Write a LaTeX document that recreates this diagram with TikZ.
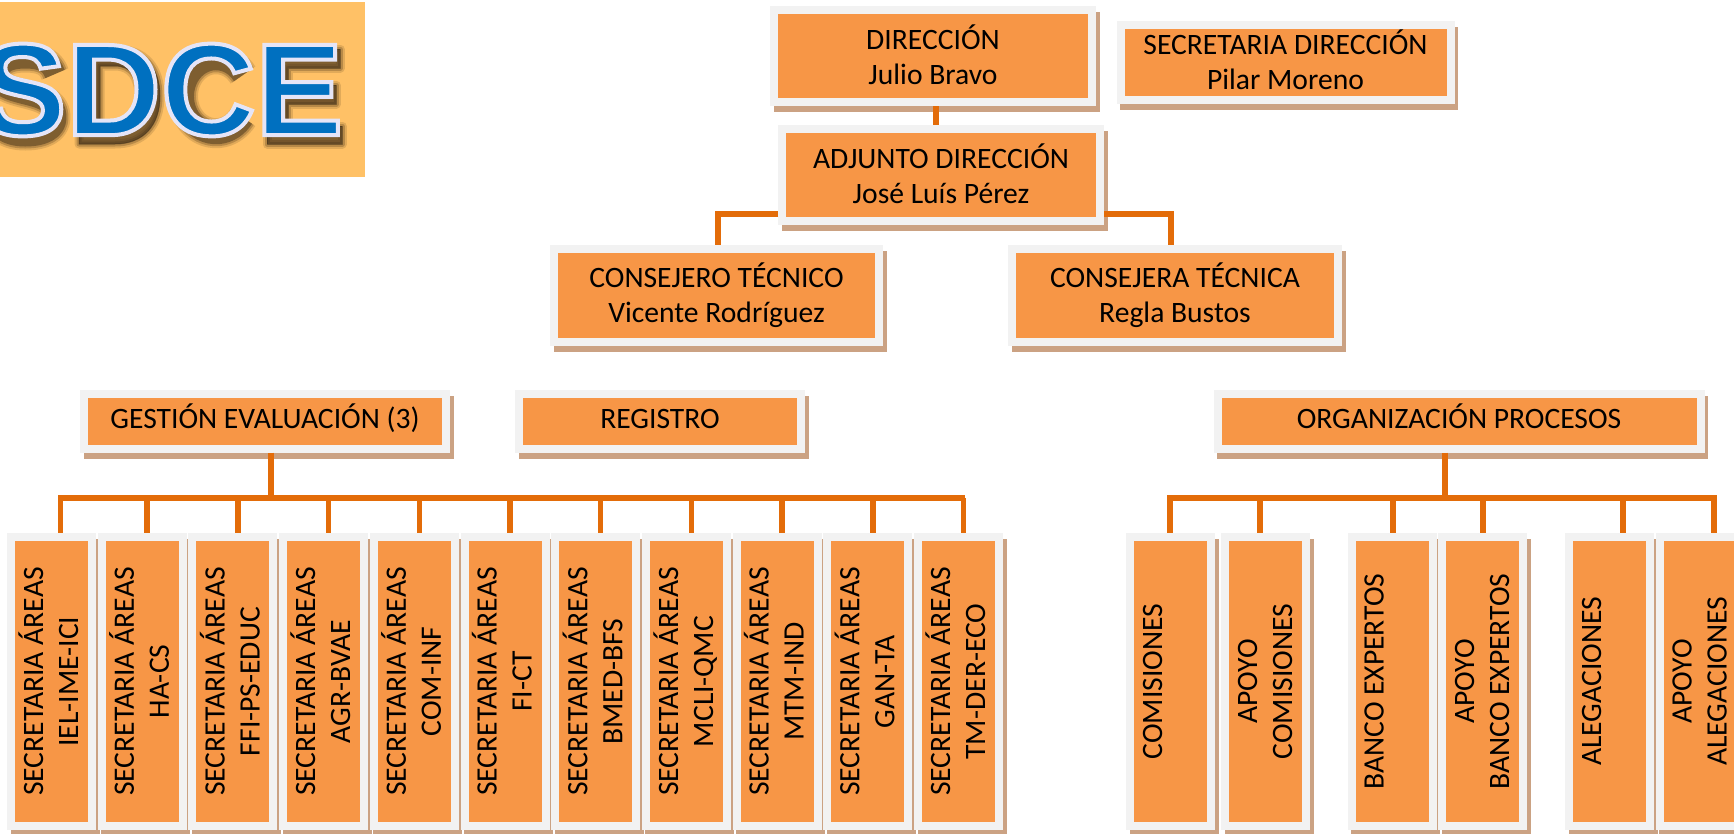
\documentclass[tikz,border=0pt]{standalone}
\usepackage{fontspec}
\usetikzlibrary{shadows}
\setmainfont{Carlito}
\newfontface\logofont{Liberation Sans Bold}

\definecolor{naranja}{HTML}{F79646}
\definecolor{marco}{HTML}{F2F2F2}
\definecolor{sombra}{HTML}{CBA283}
\definecolor{linea}{HTML}{E36C09}
\definecolor{fondologo}{HTML}{FFC166}
\definecolor{azullogo}{HTML}{0070C0}
\definecolor{sombralogo}{HTML}{3A2A15}

\newcommand{\giro}[1]{\hspace*{4pt}\rotatebox{90}{\begin{tabular}{@{}c@{}}#1\end{tabular}}}
\newcommand{\contorno}[1]{\special{pdf:code 2 Tr 4 w 0.9 0.9 0.97 RG}#1\special{pdf:code 0 Tr 1 w}}

\tikzset{
	caja/.style={rectangle, draw=marco, line width=8pt, fill=naranja, inner sep=0pt, align=center,
		font=\fontsize{29.6}{35}\selectfont, text=black,
		general shadow={fill=sombra, draw=sombra, shadow xshift=3.5pt, shadow yshift=-6pt}},
	vcaja/.style={caja, minimum width=81pt, minimum height=289pt},
	conector/.style={draw=linea, line width=5.5pt}
}

\begin{document}
\begin{tikzpicture}[x=1pt, y=-1pt]
	\useasboundingbox (0,0) rectangle (1734,833);

	% logo
	\node (logo) at (182.5,89.5) [fill=fondologo, minimum width=365pt, minimum height=175pt] {};
	\begin{scope}
		\clip (0,0) rectangle (365,177);
		% sombra de las letras, de mas ancha a mas estrecha
		\foreach \w/\o in {9/0.15, 5/0.25, 1/0.45} {
			\begin{scope}[shift={(3,6)}, draw=sombralogo, fill=sombralogo, opacity=\o, line join=round]
				\path[draw, fill, even odd rule, line width=\w pt] (76,43) -- (112,43) .. controls (142,43) and (157,62) .. (157,90)
					.. controls (157,120) and (140,138) .. (112,138) -- (76,138) -- cycle
					(97,60) -- (97,121) -- (112,121) .. controls (128,121) and (136,108) .. (136,90)
					.. controls (136,72) and (128,60) .. (112,60) -- cycle;
				\path[draw, fill, line width=\w pt] (264,43) -- (337,43) -- (337,62) -- (285,62) -- (285,79) -- (333,79) -- (333,98)
					-- (285,98) -- (285,120) -- (339,120) -- (339,138) -- (264,138) -- cycle;
				\draw[line width=21pt+\w pt] (240,69) arc[start angle=35, end angle=325, x radius=33pt, y radius=37pt];
				\draw[line width=20pt+\w pt] (52,68) .. controls (48,56) and (38,52) .. (22,52)
					.. controls (0,52) and (-8,62) .. (-4,74) .. controls (2,92) and (52,84) .. (53,110)
					.. controls (54,124) and (40,130) .. (22,130) .. controls (4,130) and (-8,122) .. (-12,106);
			\end{scope}
		}
		\node (sigla) at (161,90) [text=azullogo, inner sep=0pt, font=\logofont\fontsize{131}{131}\selectfont] {\contorno{SDCE}};
	\end{scope}

	% direccion
	\node (dir) at (933,56) [caja, text depth=3pt, minimum width=318pt, minimum height=92pt] {DIRECCIÓN\\Julio Bravo};
	\node (sec) at (1285.5,62.5) [caja, text depth=5pt, minimum width=330pt, minimum height=75pt] {SECRETARIA DIRECCIÓN\\Pilar Moreno};
	\node (adj) at (941,175) [caja, text depth=3pt, minimum width=318pt, minimum height=92pt] {ADJUNTO DIRECCIÓN\\José Luís Pérez};
	\node (conso) at (716.5,295.5) [caja, minimum width=325pt, minimum height=93pt] {CONSEJERO TÉCNICO\\Vicente Rodríguez};
	\node (consa) at (1175,295.5) [caja, minimum width=326pt, minimum height=93pt] {CONSEJERA TÉCNICA\\Regla Bustos};

	\node (ges) at (265,421) [caja, minimum width=362pt, minimum height=55pt] {\strut GESTIÓN EVALUACIÓN (3)};
	\node (reg) at (660,421) [caja, minimum width=282pt, minimum height=55pt] {\strut REGISTRO};
	\node (org) at (1459,421) [caja, minimum width=483pt, minimum height=55pt] {\strut ORGANIZACIÓN PROCESOS};

	% secretarias de areas
	\foreach \n/\cx/\area in {1/51.5/IEL-IME-ICI, 2/142.2/HA-CS, 3/232.9/FFI-PS-EDUC, 4/323.6/AGR-BVAE,
		5/414.3/COM-INF, 6/505/FI-CT, 7/595.7/BMED-BFS, 8/686.4/MCLI-QMC, 9/777.1/MTM-IND,
		10/867.8/GAN-TA, 11/958.5/TM-DER-ECO}
		\node (s\n) at (\cx,681.5) [vcaja] {\giro{SECRETARIA ÁREAS\\\area}};

	% procesos
	\node (com) at (1170.5,681.5) [vcaja] {\giro{COMISIONES\\ \\}};
	\node (acom) at (1265.5,681.5) [vcaja] {\giro{APOYO\\COMISIONES}};
	\node (ban) at (1392,681.5) [vcaja] {\giro{BANCO EXPERTOS\\ \\}};
	\node (aban) at (1482.5,681.5) [vcaja] {\giro{APOYO\\BANCO EXPERTOS}};
	\node (ale) at (1609.5,681.5) [vcaja] {\giro{ALEGACIONES\\ \\}};
	\node (aale) at (1700,681.5) [vcaja] {\giro{APOYO\\ALEGACIONES}};

	% conectores de arriba
	\draw[conector] ([xshift=3pt]dir.south) -- ([xshift=-5pt]adj.north);
	\draw[conector] ([yshift=-39pt]adj.west) -| ([xshift=1.5pt]conso.north);
	\draw[conector] ([yshift=-39pt]adj.east) -| ([xshift=-4pt]consa.north);

	% conectores de gestion
	\coordinate (busges) at (271,498);
	\draw[conector] ([xshift=6pt]ges.south) -- (busges);
	\draw[conector, line cap=rect] ([xshift=9pt]s1.north |- busges) -- ([xshift=4pt]s11.north |- busges);
	\draw[conector] ([xshift=9pt]s1.north |- busges) -- ([xshift=9pt]s1.north);
	\foreach \n in {2,...,11}
		\draw[conector] ([xshift=5pt]s\n.north |- busges) -- ([xshift=5pt]s\n.north);

	% conectores de procesos
	\coordinate (busorg) at (1445,498);
	\draw[conector] ([xshift=-14pt]org.south) -- (busorg);
	\draw[conector, line cap=rect] ([xshift=-0.5pt]com.north |- busorg) -- ([xshift=14pt]aale.north |- busorg);
	\foreach \nodo/\dx in {com/-0.5, acom/-5.5, ban/1, aban/0.5, ale/13.5, aale/14}
		\draw[conector] ([xshift=\dx pt]\nodo.north |- busorg) -- ([xshift=\dx pt]\nodo.north);
\end{tikzpicture}
\end{document}
